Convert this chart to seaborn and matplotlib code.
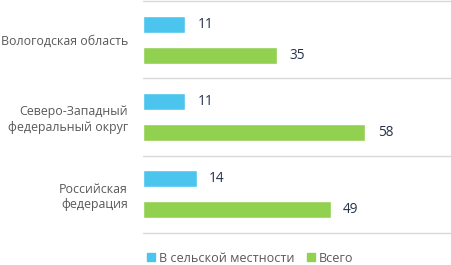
import matplotlib
matplotlib.use("Agg")
import matplotlib.pyplot as plt
import seaborn as sns
import pandas as pd

categories = ["Вологодская область", "Северо-Западный\nфедеральный округ", "Российская\nфедерация"]
series_names = ["В сельской местности", "Всего"]
rural = [11, 11, 14]
total = [35, 58, 49]
colors = ["#4BC5EE", "#92D050"]

df = pd.DataFrame({
    "cat": categories * 2,
    "series": [series_names[0]] * 3 + [series_names[1]] * 3,
    "value": rural + total,
})

sns.set_theme(style="white")
plt.rcParams["font.family"] = ["Open Sans", "DejaVu Sans"]

fig = plt.figure(figsize=(4.51, 2.65), dpi=100)
ax = fig.add_axes([0.317, 0.121, 0.683, 0.875])

sns.barplot(data=df, y="cat", x="value", hue="series", orient="h",
            palette=colors, gap=0.45, width=0.8, ax=ax, legend=False,
            saturation=1)

for cont in ax.containers:
    ax.bar_label(cont, labels=[f"{int(v)}" for v in cont.datavalues],
                 padding=9, fontsize=9.8, color="#26324a")

ax.set_xlim(0, 80.4)
ax.set_ylim(2.5, -0.5)
for yv in [-0.5, 0.5, 1.5, 2.5]:
    ax.axhline(yv, color="#d9d9d9", lw=1, zorder=0, clip_on=False)
for s in ax.spines.values():
    s.set_visible(False)
ax.set_xticks([])
ax.set_xlabel("")
ax.set_ylabel("")
ax.tick_params(axis="y", length=0, pad=10.8, labelsize=8.9, labelcolor="#595959")
for t in ax.get_yticklabels():
    t.set_horizontalalignment("right")
    t.set_multialignment("right")
    t.set_linespacing(1.25)

from matplotlib.patches import Patch
handles = [Patch(color=c, label=n) for c, n in zip(colors, series_names)]
fig.legend(handles=handles, loc="center", bbox_to_anchor=(0.555, 0.026),
           ncol=2, frameon=False, fontsize=9.1, handlelength=0.65,
           handleheight=0.65, handletextpad=0.3, columnspacing=1.0,
           labelcolor="#595959")

fig.savefig("out.png", dpi=100)
